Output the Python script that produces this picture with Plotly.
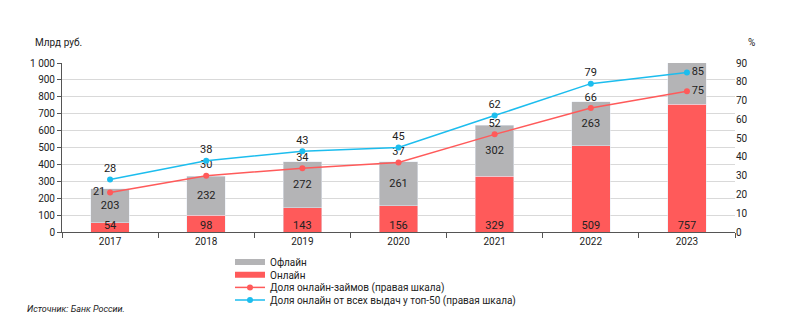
import plotly.graph_objects as go

years = ["2017", "2018", "2019", "2020", "2021", "2022", "2023"]
online = [54, 98, 143, 156, 329, 509, 757]
offline = [203, 232, 272, 261, 302, 263, 250]
share_online = [21, 30, 34, 37, 52, 66, 75]
share_top50 = [28, 38, 43, 45, 62, 79, 85]

RED = "#ff5a5a"
GRAY = "#b4b4b6"
BLUE = "#1cbdee"
FONT = "Roboto"

fig = go.Figure()

fig.add_trace(go.Bar(x=years, y=online, marker_color=RED, width=0.4,
                     showlegend=False, hoverinfo="skip"))
fig.add_trace(go.Bar(x=years, y=offline, marker_color=GRAY, width=0.4,
                     text=offline, textposition="inside", insidetextanchor="middle",
                     textangle=0, textfont=dict(size=11, color="#222"),
                     showlegend=False, hoverinfo="skip"))
# online value labels at the base of bars
fig.add_trace(go.Scatter(x=years, y=[0] * len(years), mode="text", text=online,
                         textposition="top center", textfont=dict(size=11, color="#222"),
                         showlegend=False, hoverinfo="skip", cliponaxis=False))

red_pos = ["middle left", "top center", "top center", "top center", "top center", "top center", "middle right"]
blue_pos = ["top center"] * 6 + ["middle right"]

fig.add_trace(go.Scatter(x=years, y=share_online, yaxis="y2", mode="lines+markers+text",
                         line=dict(color=RED, width=1.5), marker=dict(size=6, color=RED),
                         text=share_online, textposition=red_pos,
                         textfont=dict(size=11, color="#222"),
                         showlegend=False, cliponaxis=False))
fig.add_trace(go.Scatter(x=years, y=share_top50, yaxis="y2", mode="lines+markers+text",
                         line=dict(color=BLUE, width=1.5), marker=dict(size=6, color=BLUE),
                         text=share_top50, textposition=blue_pos,
                         textfont=dict(size=11, color="#222"),
                         showlegend=False, cliponaxis=False))

# legend proxies, each in its own legend to control spacing
names = ["Офлайн", "Онлайн", "Доля онлайн-займов (правая шкала)",
         "Доля онлайн от всех выдач у топ-50 (правая шкала)"]
legs = ["legend", "legend2", "legend3", "legend4"]
fig.add_trace(go.Scatter(x=[None], y=[None], mode="lines", line=dict(color=GRAY, width=6),
                         name=names[0], legend=legs[0]))
fig.add_trace(go.Scatter(x=[None], y=[None], mode="lines", line=dict(color=RED, width=6),
                         name=names[1], legend=legs[1]))
fig.add_trace(go.Scatter(x=[None], y=[None], mode="lines+markers", line=dict(color=RED, width=1.5),
                         marker=dict(size=6, color=RED), name=names[2], legend=legs[2]))
fig.add_trace(go.Scatter(x=[None], y=[None], mode="lines+markers", line=dict(color=BLUE, width=1.5),
                         marker=dict(size=6, color=BLUE), name=names[3], legend=legs[3]))

L, R, T, B = 62, 73, 63, 91
W, H = 808, 323
ph = H - T - B
pw = W - L - R

def py(pix):
    return (H - B - pix) / ph

def px(pix):
    return (pix - L) / pw

leg_common = dict(x=px(230), xanchor="left", yanchor="middle", bgcolor="rgba(0,0,0,0)",
                  font=dict(family=FONT, size=10, color="#222"), itemwidth=30)
layout_legs = {}
for i, lg in enumerate(legs):
    layout_legs[lg] = dict(leg_common, y=py(262 + i * 12.7))

fig.update_layout(
    width=W, height=H,
    margin=dict(l=L, r=R, t=T, b=B, autoexpand=False),
    paper_bgcolor="white", plot_bgcolor="white",
    barmode="stack",
    separators=", ",
    font=dict(family=FONT, size=10, color="#222"),
    xaxis=dict(type="category", showgrid=False, ticks="outside", tickson="boundaries",
               ticklen=5, tickcolor="#555", showline=True, linecolor="#555", linewidth=1,
               tickfont=dict(size=10, color="#222")),
    yaxis=dict(range=[0, 1000], dtick=100, showgrid=True, gridcolor="#d9d9d9", gridwidth=1,
               ticks="outside", ticklen=4, tickcolor="#555", showline=True, linecolor="#555",
               separatethousands=True, tickfont=dict(size=10, color="#222"), zeroline=False),
    yaxis2=dict(range=[0, 90], dtick=10, overlaying="y", side="right", showgrid=False,
                showline=False, ticks="", zeroline=False, tickfont=dict(size=10, color="#222")),
    **layout_legs,
    annotations=[
        dict(text="Млрд руб.", xref="paper", yref="paper", x=px(33), y=py(42),
             xanchor="left", yanchor="middle", showarrow=False, font=dict(size=10, color="#222")),
        dict(text="%", xref="paper", yref="paper", x=px(751), y=py(42),
             xanchor="center", yanchor="middle", showarrow=False, font=dict(size=10, color="#222")),
        dict(text="<i>Источник: Банк России.</i>", xref="paper", yref="paper", x=px(25), y=py(309),
             xanchor="left", yanchor="middle", showarrow=False, font=dict(size=9, color="#222")),
    ],
)

fig.write_html("out.html")
